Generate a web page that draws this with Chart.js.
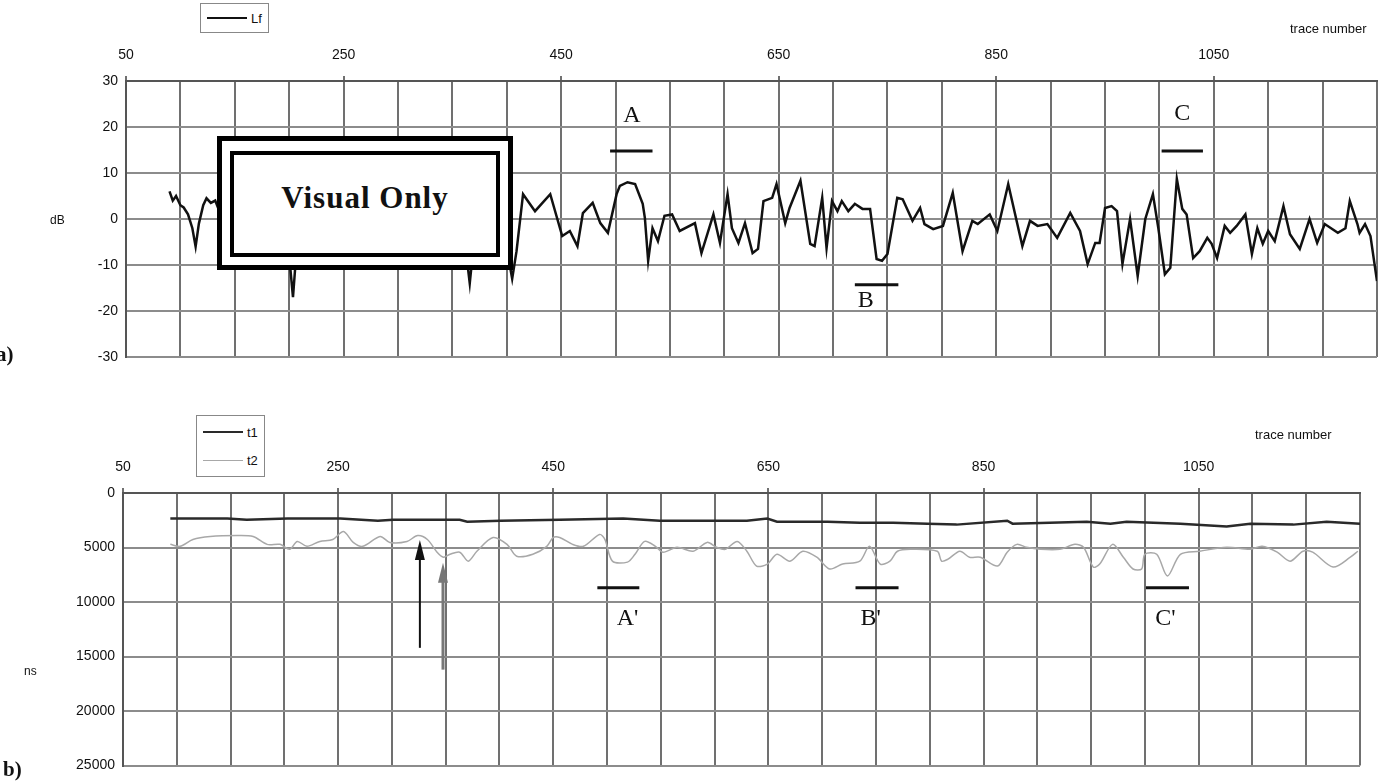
<!DOCTYPE html>
<html>
<head>
<meta charset="utf-8">
<script src="https://cdn.jsdelivr.net/npm/chart.js@4.4.1/dist/chart.umd.min.js"></script>
<style>
    body { margin: 0; background: #fff; width: 1400px; height: 782px; position: relative; overflow: hidden;
           font-family: "Liberation Sans", Arial, sans-serif; color: #111; }
    canvas { position: absolute; left: 0; }
    #chart-a { top: 0; }
    #chart-b { top: 390px; }
    .txt { position: absolute; white-space: nowrap; }
    .axis-name { font-size: 13px; }
    .panel-tag { font-family: "Liberation Serif", "Times New Roman", serif; font-weight: bold; font-size: 21px; }
    .legend { position: absolute; border: 1px solid #888; background: #fff; padding: 2px 6px; font-size: 13px; }
    .legend-row { display: flex; align-items: center; height: 28px; }
    .legend-row .swatch { display: inline-block; width: 40px; margin-right: 4px; }
    #legend-a .legend-row { height: 24px; }
    .visual-only { position: absolute; left: 217px; top: 136px; width: 286px; height: 124px; border: 5px solid #000; background: #fff; }
    .visual-only .inner { position: absolute; left: 8px; top: 10px; right: 8px; bottom: 8px; border: 4px solid #000;
                          display: flex; align-items: center; justify-content: center; padding-bottom: 12px; box-sizing: border-box;
                          font-family: "Liberation Serif", "Times New Roman", serif; font-weight: bold; font-size: 31px; letter-spacing: 1px; }
</style>
</head>
<body>
<canvas id="chart-a" width="1400" height="390"></canvas>
<canvas id="chart-b" width="1400" height="392"></canvas>

<div class="legend" id="legend-a" style="left:200px; top:3px;"></div>
<div class="legend" id="legend-b" style="left:196px; top:415px;"></div>

<div class="txt axis-name" style="left:1290px; top:21px;">trace number</div>
<div class="txt axis-name" style="left:1255px; top:427px;">trace number</div>
<div class="txt axis-name" style="left:50px; top:213px; font-size:12px;">dB</div>
<div class="txt axis-name" style="left:24px; top:664px; font-size:12px;">ns</div>
<div class="txt panel-tag" style="left:-4px; top:342px;">a)</div>
<div class="txt panel-tag" style="left:3px; top:757px;">b)</div>

<div class="visual-only"><div class="inner">Visual Only</div></div>

<script>
// ---- data ----
// (a) Lf, dB against trace number
const lfTrace = [90, 93, 96, 100, 103, 107, 111, 114, 117, 121, 124, 128, 132,
    137, 142, 148, 153, 158, 163, 168, 174, 180, 186, 192, 197, 200, 203.5, 207, 212, 218, 224, 230, 236, 242, 248,
    255, 262, 268, 275, 282, 290, 297, 305, 312, 320, 327, 334, 341, 348, 355, 360, 363, 366, 369, 374, 380, 386,
    392, 398, 402, 405, 409, 415, 426, 440, 451, 458, 465, 470, 479, 486, 493, 501, 504, 511, 518, 525, 527, 530,
    534, 539, 545, 552, 559, 573, 579, 590, 596, 603, 607, 613, 619, 626, 631, 636, 644, 648, 656, 660, 670, 679,
    683, 690, 694, 699, 704, 708, 714, 720, 727, 734, 740, 745, 750, 759, 764, 773, 780, 784, 792, 801, 810, 819,
    828, 833, 844, 851, 861, 874, 881, 888, 897, 906, 918, 927, 934, 941, 945, 950, 956, 961, 966, 973, 980, 987,
    994, 999, 1005, 1010, 1016, 1021, 1025, 1031, 1037, 1044, 1048, 1053, 1060, 1065, 1071, 1079, 1085, 1090,
    1095, 1100, 1106, 1114, 1120, 1129, 1138, 1145, 1152, 1164, 1171, 1175, 1182, 1184, 1189, 1194, 1200];
const lfDb = [6, 4, 5, 3, 2.5, 1, -2, -6, -1, 3, 4.5, 3.5, 4,
    1, 3, -2, 2, -3, 1, 4, -1, 2, -4, 0, -3, -8, -17, -6, 0, 3, -2, 2, -4, 1, 3,
    -2, 2, -5, 0, 3, -2, 1, -4, 2, 4, -1, 2, -3, 0, 3, -4, -8, -14, -7, -1, 2, -3,
    1, -4, -9, -13, -7, 5.4, 1.7, 5.4, -3.7, -2.6, -5.9, 1.3, 3.5, -0.9, -3, 5.4, 7.2, 8, 7.6, 3.3, 0.2, -9.1,
    -2, -4.8, 0.7, 1, -2.6, -0.9, -7.4, 1, -5.2, 5.4, -2, -5.2, -0.9, -7.4, -6.5, 3.9, 4.6, 7.6, -0.9, 2.4, 8.3, -5.4,
    -5.9, 4.6, -6.3, 3.9, 1.7, 3.9, 1.7, 3.3, 2.2, 2.2, -8.7, -9.1, -7.6, 4.6, 4.3, -0.4, 2.4, -1.1, -2.2, -1.5, 5.7, -7,
    -0.4, -1.1, 1, -2.6, 7.6, -5.9, -0.4, -1.5, -1.1, -4.1, 1.3, -2.6, -9.8, -5.2, -5.2, 2.4, 2.8, 1.7, -9.8, 0, -12.4, 0,
    5.4, -2, -12, -10.6, 8.7, 2.2, 1, -8.5, -7, -4.1, -5.4, -8.5, -1.5, -3, -1.5, 1, -7.6, -2,
    -5.4, -2.6, -4.8, 2.8, -3.3, -6.5, 0, -5.2, -1.1, -3, -2, 3.9, -1.1, -3, -1.1, -3.7, -13.5];

// (b) t1 and t2, ns against trace number
const t1Trace = [94, 147, 165, 203, 252, 287, 301, 363, 370, 401, 456, 515, 549, 630, 649, 658, 705, 735, 766,
    798, 825, 872, 877, 946, 968, 983, 1033, 1076, 1098, 1138, 1169, 1200];
const t1Ns = [2350, 2350, 2450, 2350, 2350, 2540, 2450, 2450, 2630, 2540, 2450, 2350, 2540, 2540, 2350, 2630, 2630,
    2720, 2720, 2810, 2900, 2540, 2810, 2630, 2810, 2630, 2810, 3080, 2810, 2900, 2630, 2810];

const t2Trace = [94, 103, 115, 131, 156, 171, 184, 196, 205, 212, 221, 233, 245, 255, 264, 273, 289, 298, 314, 324,
    333, 342, 348, 354, 363, 371, 379, 394, 407, 416, 431, 444, 450, 456, 468, 478, 493, 498, 505, 519, 526, 535,
    545, 552, 565, 580, 593, 602, 610, 621, 630, 639, 649, 658, 670, 682, 695, 707, 719, 735, 744, 754, 763, 770,
    782, 807, 811, 817, 828, 837, 847, 863, 872, 881, 890, 903, 921, 935, 943, 952, 958, 970, 980, 989, 997, 1000,
    1011, 1021, 1033, 1051, 1076, 1098, 1109, 1123, 1135, 1147, 1156, 1175, 1191, 1198];
const t2Ns = [4710, 4890, 4260, 3990, 3900, 3990, 4710, 4710, 5160, 4440, 4890, 4440, 4260, 3530, 4530, 4890, 3990,
    4530, 4440, 3900, 4260, 5430, 5890, 5620, 5430, 6250, 5340, 4080, 4710, 5800, 5620, 4890, 4080, 4080, 4710,
    4890, 3800, 4260, 6250, 6340, 5620, 4440, 4890, 5430, 4980, 5340, 4530, 4980, 5160, 4440, 5340, 6700, 6520,
    5620, 6250, 5340, 5890, 6970, 6520, 6250, 4890, 6520, 6250, 5340, 5160, 5340, 6250, 6070, 5340, 5890, 5890,
    6700, 5430, 4710, 4980, 5160, 5160, 4710, 4980, 6790, 6520, 4710, 5890, 6970, 6970, 5620, 5620, 7610, 5620,
    5340, 4980, 5160, 4890, 5430, 6250, 5340, 5430, 6790, 5890, 5340];

// axes
const traceMin = 50, traceMax = 1200, traceStep = 50, traceLabelEvery = 200;
const dbMin = -30, dbMax = 30, dbStep = 10;
const nsMin = 0, nsMax = 25000, nsStep = 5000;

// marker labels (in data units)
const marksA = {
    bars: [[495, 534, 14.8], [720, 760, -14.3], [1002, 1040, 14.8]],
    texts: [['A', 515, 22.4], ['B', 730, -17.8], ['C', 1021, 22.8]]
};
const marksB = {
    bars: [[491, 530, 8700], [731, 771, 8700], [1001, 1041, 8700]],
    texts: [["A'", 519, 11500], ["B'", 745, 11500], ["C'", 1019, 11500]],
    arrows: [[326, 14200, 4300, '#111', 2], [347.5, 16200, 6400, '#777', 3]]
};

function toPoints(xs, ys) {
    return xs.map((x, i) => ({ x: x, y: ys[i] }));
}

const marksPlugin = {
    id: 'marks',
    afterDatasetsDraw(chart, args, opts) {
        const ctx = chart.ctx;
        const xs = chart.scales.x, ys = chart.scales.y;
        ctx.save();
        ctx.fillStyle = '#111';
        ctx.strokeStyle = '#111';
        (opts.bars || []).forEach(([x0, x1, v]) => {
            ctx.lineWidth = 3;
            ctx.beginPath();
            ctx.moveTo(xs.getPixelForValue(x0), ys.getPixelForValue(v));
            ctx.lineTo(xs.getPixelForValue(x1), ys.getPixelForValue(v));
            ctx.stroke();
        });
        ctx.font = '24px "Liberation Serif", "Times New Roman", serif';
        ctx.textAlign = 'center';
        ctx.textBaseline = 'middle';
        (opts.texts || []).forEach(([t, x, v]) => {
            ctx.fillText(t, xs.getPixelForValue(x), ys.getPixelForValue(v));
        });
        (opts.arrows || []).forEach(([x, from, to, color, w]) => {
            const px = xs.getPixelForValue(x);
            const y0 = ys.getPixelForValue(from), y1 = ys.getPixelForValue(to);
            ctx.strokeStyle = color;
            ctx.fillStyle = color;
            ctx.lineWidth = w;
            ctx.beginPath();
            ctx.moveTo(px, y0);
            ctx.lineTo(px, y1 + 15);
            ctx.stroke();
            ctx.beginPath();
            ctx.moveTo(px, y1);
            ctx.lineTo(px - 5, y1 + 20);
            ctx.lineTo(px + 5, y1 + 20);
            ctx.closePath();
            ctx.fill();
        });
        ctx.restore();
    }
};

function traceAxis(height) {
    return {
        type: 'linear',
        position: 'top',
        min: traceMin,
        max: traceMax,
        afterFit: s => { s.height = height; },
        ticks: {
            stepSize: traceStep,
            autoSkip: false,
            maxRotation: 0,
            padding: 12,
            color: '#111',
            font: { family: '"Liberation Sans", Arial, sans-serif', size: 14 },
            callback: v => ((v - traceMin) % traceLabelEvery === 0 ? String(v) : '')
        },
        grid: {
            color: '#707070',
            lineWidth: 2,
            tickLength: 5,
            tickColor: c => (c.tick && (c.tick.value - traceMin) % traceLabelEvery === 0 ? '#707070' : 'rgba(0,0,0,0)')
        },
        border: { color: '#555', width: 2 }
    };
}

function valueAxis(width, min, max, step, reverse) {
    return {
        type: 'linear',
        min: min,
        max: max,
        reverse: reverse,
        afterFit: s => { s.width = width; },
        ticks: {
            stepSize: step,
            padding: 8,
            color: '#111',
            font: { family: '"Liberation Sans", Arial, sans-serif', size: 14 },
            callback: v => String(v)
        },
        grid: { color: '#8c8c8c', lineWidth: 2, drawTicks: false },
        border: { color: '#555', width: 2 }
    };
}

function buildLegend(el, chart) {
    chart.data.datasets.forEach(ds => {
        const row = document.createElement('div');
        row.className = 'legend-row';
        row.innerHTML = `<span class="swatch" style="border-top:${ds.borderWidth}px solid ${ds.borderColor}"></span><span>${ds.label}</span>`;
        el.appendChild(row);
    });
}

const chartA = new Chart(document.getElementById('chart-a'), {
    type: 'line',
    data: {
        datasets: [{
            label: 'Lf',
            data: toPoints(lfTrace, lfDb),
            borderColor: '#111',
            borderWidth: 2.5,
            pointRadius: 0,
            tension: 0
        }]
    },
    options: {
        responsive: false,
        animation: false,
        devicePixelRatio: 1,
        layout: { padding: { left: 0, top: 0, right: 23, bottom: 33 } },
        scales: {
            x: traceAxis(81),
            y: valueAxis(126, dbMin, dbMax, dbStep, false)
        },
        plugins: {
            legend: { display: false },
            tooltip: { enabled: false },
            marks: marksA
        }
    },
    plugins: [marksPlugin]
});

const chartB = new Chart(document.getElementById('chart-b'), {
    type: 'line',
    data: {
        datasets: [{
            label: 't1',
            data: toPoints(t1Trace, t1Ns),
            borderColor: '#2a2a2a',
            borderWidth: 2.5,
            pointRadius: 0,
            tension: 0
        }, {
            label: 't2',
            data: toPoints(t2Trace, t2Ns),
            borderColor: '#a8a8a8',
            borderWidth: 1.5,
            pointRadius: 0,
            tension: 0.3
        }]
    },
    options: {
        responsive: false,
        animation: false,
        devicePixelRatio: 1,
        layout: { padding: { left: 0, top: 0, right: 40, bottom: 13 } },
        scales: {
            x: traceAxis(103),
            y: valueAxis(123, nsMin, nsMax, nsStep, true)
        },
        plugins: {
            legend: { display: false },
            tooltip: { enabled: false },
            marks: marksB
        }
    },
    plugins: [marksPlugin]
});

buildLegend(document.getElementById('legend-a'), chartA);
buildLegend(document.getElementById('legend-b'), chartB);
</script>
</body>
</html>
